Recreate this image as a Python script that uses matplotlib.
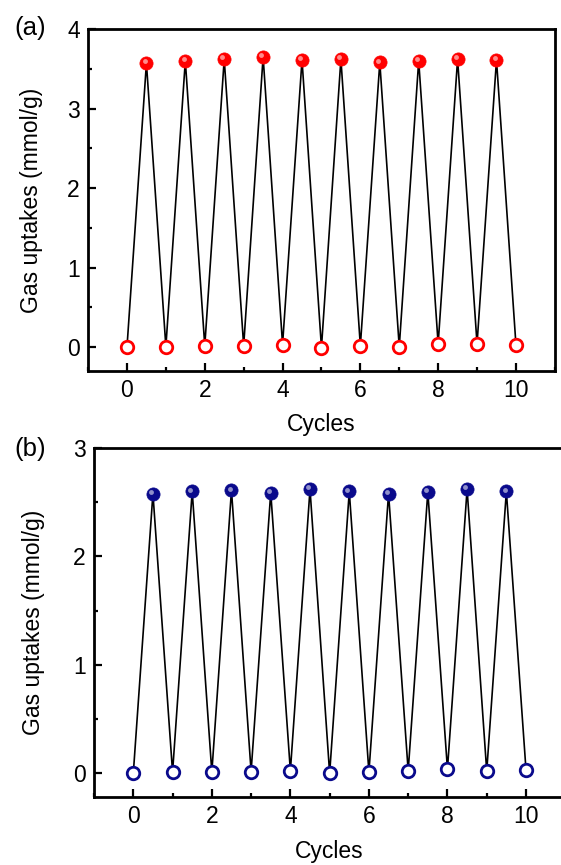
import numpy as np
import matplotlib
matplotlib.use("Agg")
from matplotlib import pyplot as plt
from matplotlib.ticker import MultipleLocator
import matplotlib.transforms as mtransforms

plt.rcParams['font.family'] = ['Liberation Sans', 'DejaVu Sans']

# cycle positions
x_low = [0, 1, 2, 3, 4, 5, 6, 7, 8, 9, 10]
x_high = [0.5, 1.5, 2.5, 3.5, 4.5, 5.5, 6.5, 7.5, 8.5, 9.5]

# panel (a) uptakes (mmol/g)
a_high = [3.57, 3.60, 3.62, 3.65, 3.61, 3.62, 3.58, 3.60, 3.62, 3.61]
a_low = [0.0, 0.008, 0.017, 0.017, 0.034, -0.004, 0.017, 0.004, 0.042, 0.042, 0.034]

# panel (b) uptakes (mmol/g)
b_high = [2.58, 2.60, 2.61, 2.59, 2.62, 2.60, 2.58, 2.595, 2.62, 2.60]
b_low = [-0.003, 0.009, 0.009, 0.015, 0.021, -0.003, 0.009, 0.021, 0.037, 0.018, 0.031]

fig = plt.figure(figsize=(5.61, 8.65), dpi=100)

def panel(rect, high, low, color, ylim, xlab_y, ylab_x):
    ax = fig.add_axes(rect)
    # zigzag line: low, high, low, high ...
    xs, ys = [], []
    for i in range(len(x_low)):
        xs.append(x_low[i]); ys.append(low[i])
        if i < len(x_high):
            xs.append(x_high[i]); ys.append(high[i])
    ax.plot(xs, ys, color='black', lw=1.2, zorder=1)
    ax.plot(x_low, low, 'o', ms=9, mfc='white', mec=color, mew=2.0, zorder=3)
    ax.plot(x_high, high, 'o', ms=9.5, mfc=color, mec=color, mew=0.5, zorder=3)
    # little highlight on the balls
    hl = mtransforms.offset_copy(ax.transData, fig=fig, x=-1.3, y=1.3, units='points')
    ax.plot(x_high, high, 'o', ms=3.5, mfc='white', mec='none', alpha=0.55,
            transform=hl, zorder=4)
    ax.set_xlim(-1, 11)
    ax.set_ylim(*ylim)
    ax.xaxis.set_major_locator(MultipleLocator(2))
    ax.xaxis.set_minor_locator(MultipleLocator(1))
    ax.yaxis.set_major_locator(MultipleLocator(1))
    ax.yaxis.set_minor_locator(MultipleLocator(0.5))
    ax.tick_params(which='both', direction='in', top=False, right=False,
                   labelsize=16.5, width=1.6)
    ax.tick_params(which='major', length=5.5, pad=6)
    ax.tick_params(which='minor', length=3)
    for s in ax.spines.values():
        s.set_linewidth(2)
    ax.set_xlabel('Cycles', fontsize=16.5, va='baseline')
    ax.xaxis.set_label_coords(0.5, xlab_y)
    ax.set_ylabel('Gas uptakes (mmol/g)', fontsize=16.5)
    ax.yaxis.set_label_coords(ylab_x, 0.5)
    return ax

axa = panel([0.157, 0.571, 0.832, 0.3955], a_high, a_low, '#ff0000', (-0.3, 4), -0.175, -0.096)
axb = panel([0.1676, 0.0786, 0.84, 0.4034], b_high, b_low, '#0a0a8c', (-0.22, 3), -0.175, -0.104)

fig.text(0.025, 1 - 28 / 865, '(a)', fontsize=18.5, va='center', ha='left')
fig.text(0.025, 1 - 449 / 865, '(b)', fontsize=18.5, va='center', ha='left')

fig.savefig('out.png', dpi=100)
